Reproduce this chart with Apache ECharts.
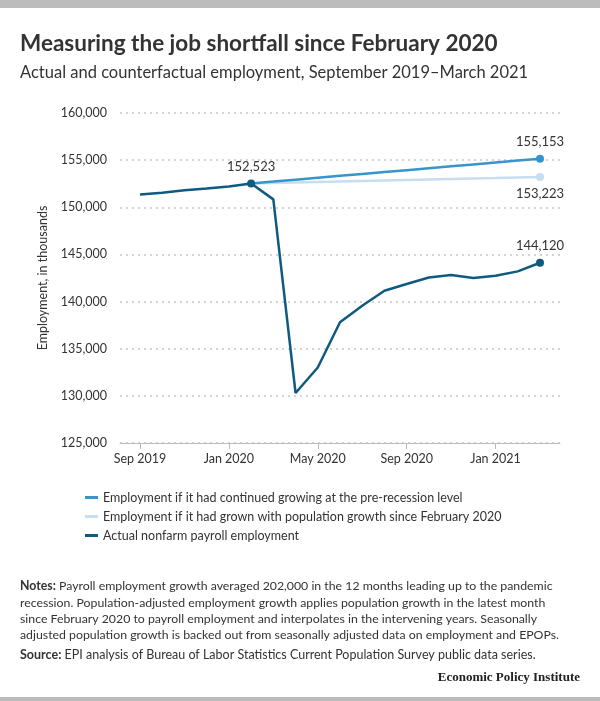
<!DOCTYPE html>
<html>
<head>
<meta charset="utf-8">
<script src="https://cdn.jsdelivr.net/npm/echarts@6/dist/echarts.min.js"></script>
<style>
html,body{margin:0;padding:0;background:#fff;}
#c{width:600px;height:701px;}
</style>
</head>
<body>
<div id="c"></div>
<script>
const months = ['Sep 2019','Oct 2019','Nov 2019','Dec 2019','Jan 2020','Feb 2020','Mar 2020','Apr 2020','May 2020','Jun 2020','Jul 2020','Aug 2020','Sep 2020','Oct 2020','Nov 2020','Dec 2020','Jan 2021','Feb 2021','Mar 2021'];
const actual = [151368,151553,151814,151998,152212,152523,150840,130303,133002,137802,139566,141149,141865,142545,142809,142503,142736,143204,144120];
const counterfactualStart = 'Feb 2020';
const preRecession = [152523,152725,152928,153130,153332,153535,153737,153939,154142,154344,154546,154748,154951,155153];
const popGrowth = [152523,152577,152631,152685,152738,152792,152846,152900,152954,153008,153062,153115,153169,153223];
const tickMonths = ['Sep 2019','Jan 2020','May 2020','Sep 2020','Jan 2021'];

const FONT = 'Lato, "Noto Sans", sans-serif';
const cDark = '#0f5a7f', cMid = '#3595cc', cLight = '#c6def0';
const startIdx = months.indexOf(counterfactualStart);
const fmt = v => v.toLocaleString('en-US');
const tickIdx = tickMonths.map(m => months.indexOf(m));

function build(arr, offset, labelled, labelPos) {
  return arr.map((v, i) => {
    const item = { value: [i + offset, v] };
    if (labelled.includes(i)) {
      item.symbolSize = 8;
      item.label = { show: true, position: labelPos, formatter: fmt(v), color: '#333', fontSize: 13, fontFamily: FONT, distance: 6 };
    } else {
      item.symbolSize = 0;
    }
    return item;
  });
}

const chart = echarts.init(document.getElementById('c'), null, { renderer: 'canvas' });
chart.setOption({
  animation: false,
  textStyle: { fontFamily: FONT },
  grid: { left: 120, right: 40, top: 113, bottom: 258, containLabel: false },
  legend: {
    orient: 'vertical', left: 80, top: 486, itemGap: 6, itemWidth: 13, itemHeight: 3,
    icon: 'rect',
    textStyle: { color: '#333', fontSize: 12.5, fontFamily: FONT },
    data: ['Employment if it had continued growing at the pre-recession level',
           'Employment if it had grown with population growth since February 2020',
           'Actual nonfarm payroll employment']
  },
  xAxis: {
    type: 'value', min: -0.9, max: months.length - 0.1,
    axisLine: { show: true, lineStyle: { color: '#bbb', width: 1 } },
    axisTick: { show: true, customValues: tickIdx, length: 6, lineStyle: { color: '#bbb' } },
    axisLabel: { customValues: tickIdx, formatter: v => months[v] || '', color: '#333', fontSize: 12.5, margin: 9, fontFamily: FONT },
    splitLine: { show: false }
  },
  yAxis: {
    type: 'value', min: 125000, max: 160000, interval: 5000,
    name: 'Employment, in thousands', nameLocation: 'middle', nameGap: 70, nameRotate: 90,
    nameTextStyle: { color: '#333', fontSize: 12.5, fontFamily: FONT },
    axisLine: { show: false }, axisTick: { show: false },
    axisLabel: { formatter: v => fmt(v), color: '#333', fontSize: 12.5, margin: 13, fontFamily: FONT },
    splitLine: { show: true, lineStyle: { color: '#d4d4d4', type: [2, 4], width: 2 } }
  },
  series: [
    {
      name: 'Employment if it had grown with population growth since February 2020',
      type: 'line', symbol: 'circle', showAllSymbol: true,
      lineStyle: { color: cLight, width: 2.5 }, itemStyle: { color: cLight },
      data: build(popGrowth, startIdx, [popGrowth.length - 1], 'bottom'), z: 2
    },
    {
      name: 'Employment if it had continued growing at the pre-recession level',
      type: 'line', symbol: 'circle', showAllSymbol: true,
      lineStyle: { color: cMid, width: 2.5 }, itemStyle: { color: cMid },
      data: build(preRecession, startIdx, [preRecession.length - 1], 'top'), z: 3
    },
    {
      name: 'Actual nonfarm payroll employment',
      type: 'line', symbol: 'circle', showAllSymbol: true,
      lineStyle: { color: cDark, width: 2.5 }, itemStyle: { color: cDark },
      data: build(actual, 0, [startIdx, actual.length - 1], 'top'), z: 4
    }
  ],
  graphic: [
    { type: 'rect', shape: { x: 0, y: 0, width: 600, height: 8 }, style: { fill: '#bcbcbc' } },
    { type: 'rect', shape: { x: 0, y: 697, width: 600, height: 4 }, style: { fill: '#bcbcbc' } },
    { type: 'text', left: 20, top: 32, style: { text: 'Measuring the job shortfall since February 2020', fill: '#333', font: 'bold 22.5px ' + FONT } },
    { type: 'text', left: 20, top: 64, style: { text: 'Actual and counterfactual employment, September 2019\u2013March 2021', fill: '#333', font: '16.5px ' + FONT } },
    { type: 'text', left: 20, top: 578, style: {
        text: '{b|Notes:} Payroll employment growth averaged 202,000 in the 12 months leading up to the pandemic\nrecession. Population-adjusted employment growth applies population growth in the latest month\nsince February 2020 to payroll employment and interpolates in the intervening years. Seasonally\nadjusted population growth is backed out from seasonally adjusted data on employment and EPOPs.',
        fill: '#333', font: '12.3px ' + FONT, lineHeight: 16.4,
        rich: { b: { fontWeight: 'bold', fontSize: 12.3, fontFamily: FONT, fill: '#333', lineHeight: 16.4 } } } },
    { type: 'text', left: 20, top: 647, style: {
        text: '{b|Source:} EPI analysis of Bureau of Labor Statistics Current Population Survey public data series.',
        fill: '#333', font: '12.5px ' + FONT, lineHeight: 16,
        rich: { b: { fontWeight: 'bold', fontSize: 12.5, fontFamily: FONT, fill: '#333' } } } },
    { type: 'text', right: 20, top: 671, style: { text: 'Economic Policy Institute', fill: '#222', font: 'bold 13px "Liberation Serif", "DejaVu Serif", serif' } }
  ]
});
</script>
</body>
</html>
